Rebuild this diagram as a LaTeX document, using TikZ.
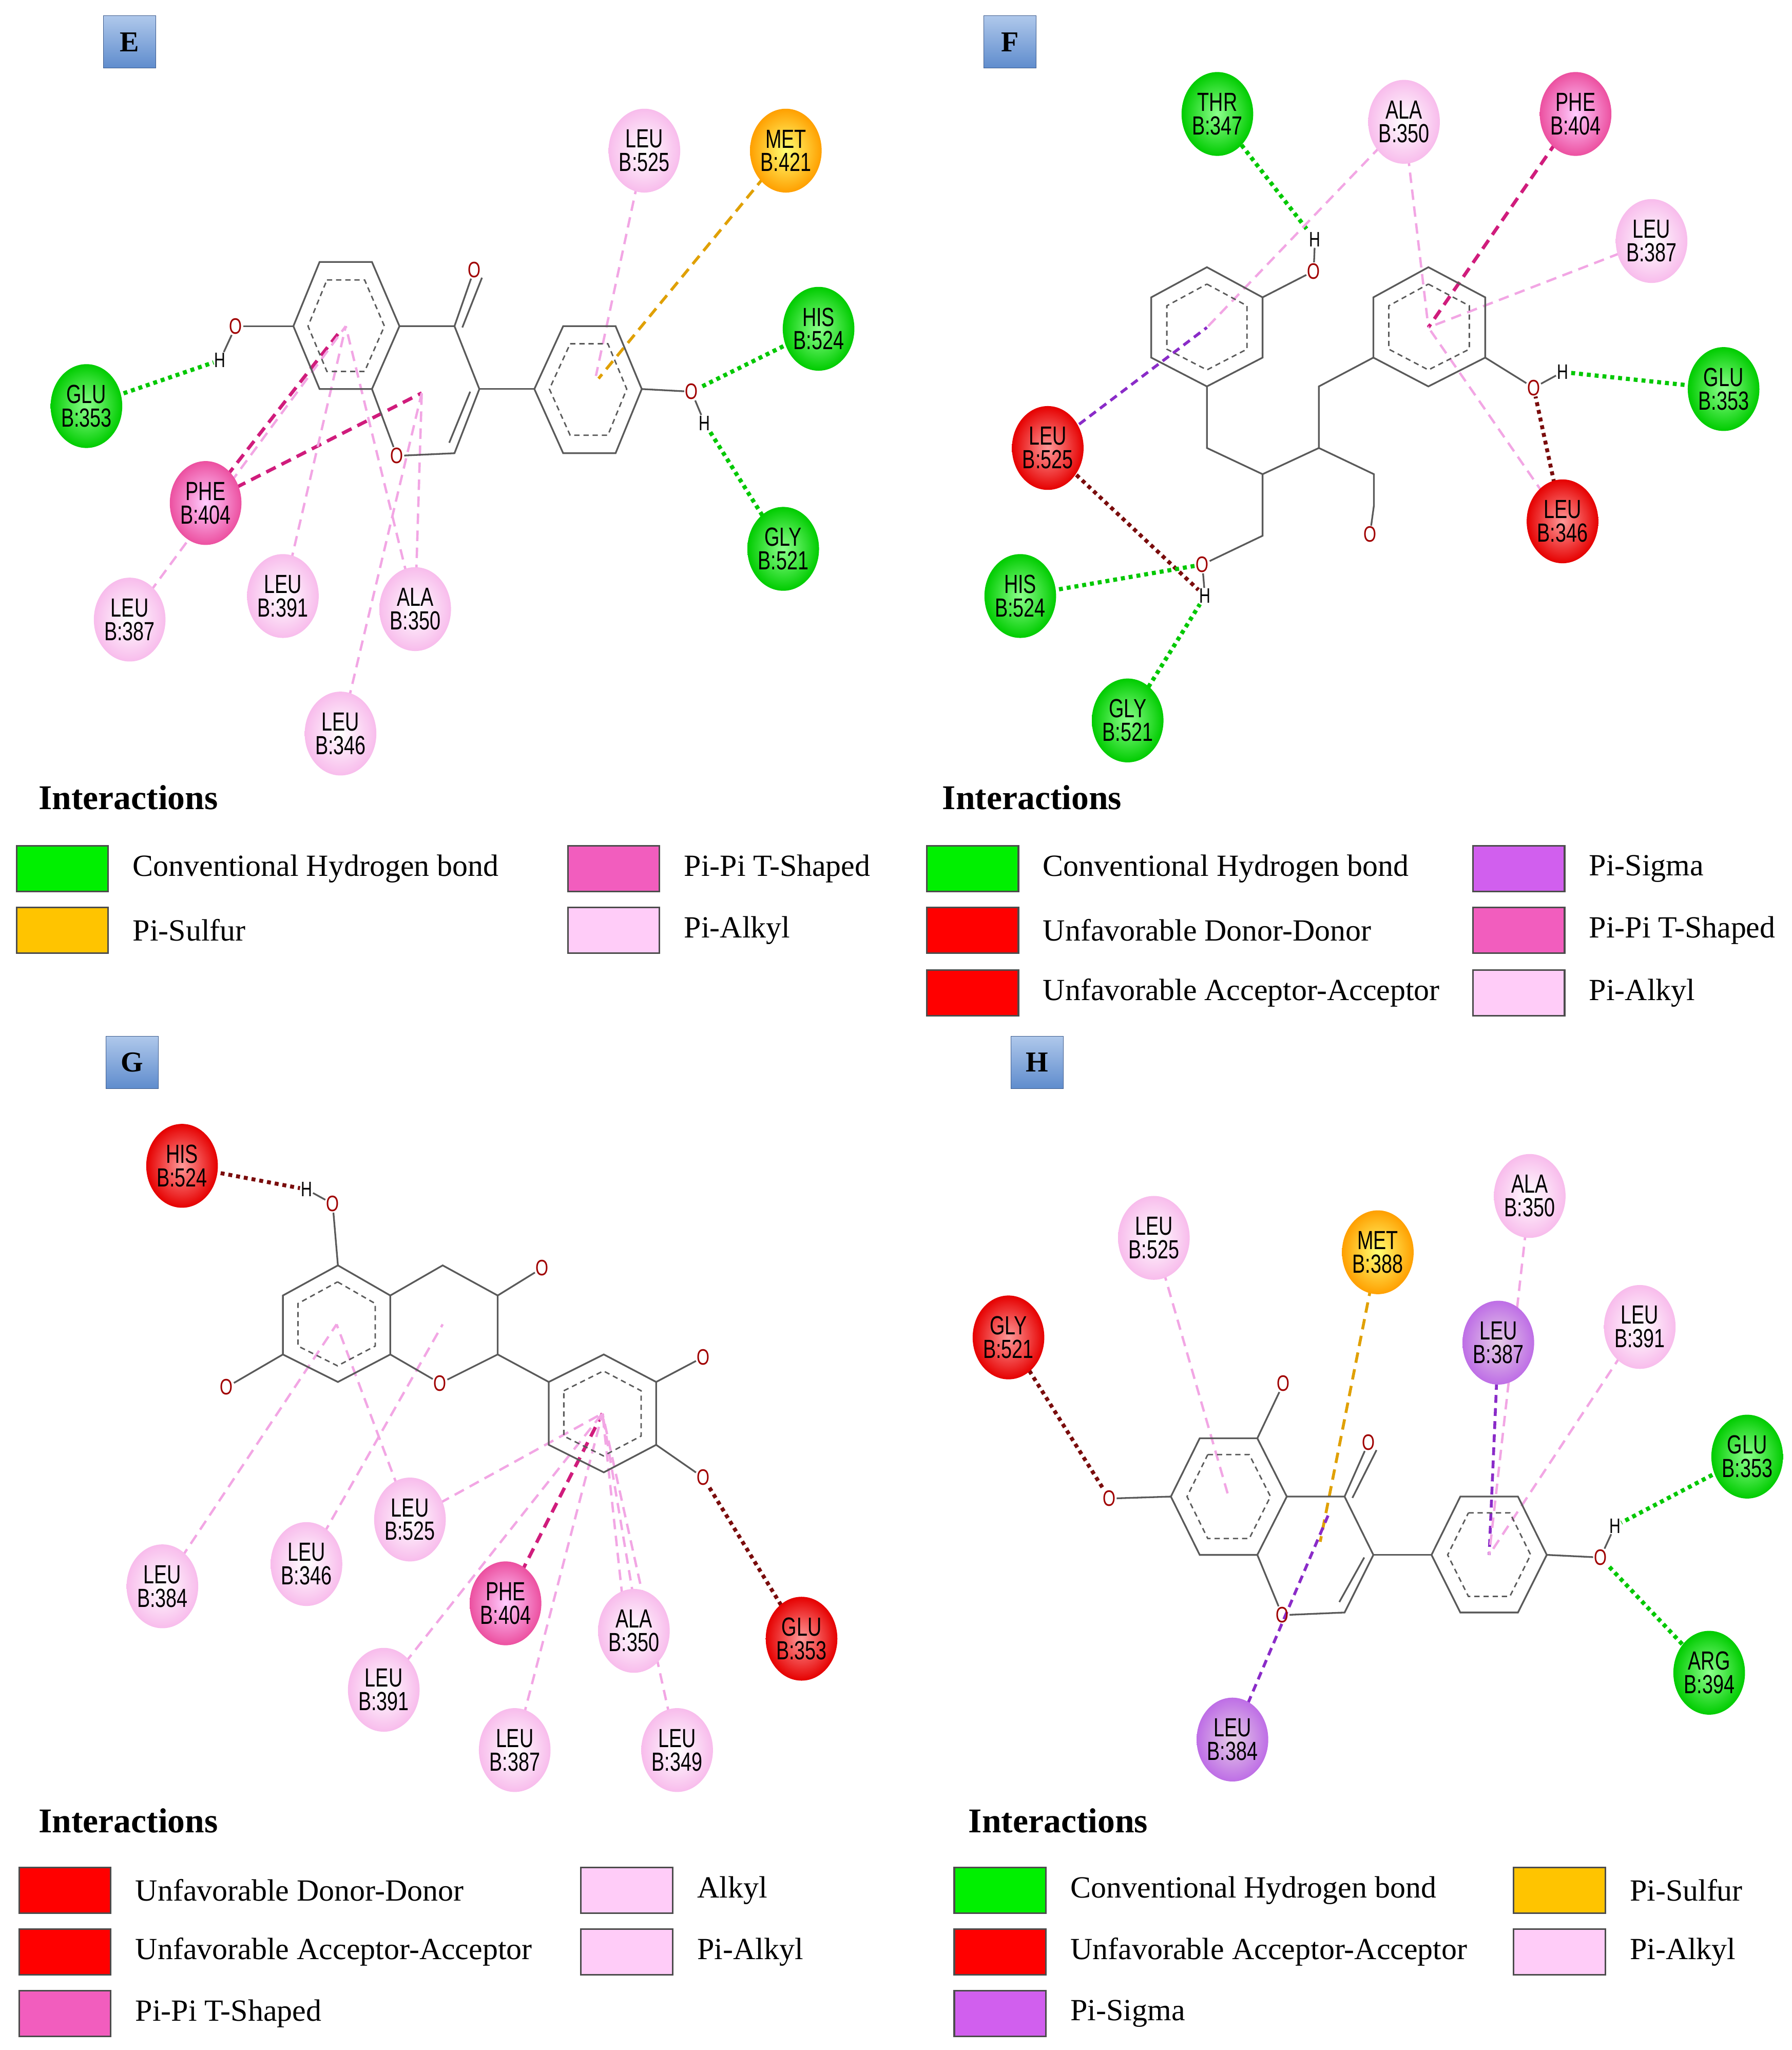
\documentclass[tikz,border=0pt]{standalone}
\usepackage{fontspec}
\setmainfont{Liberation Serif}
\newfontfamily\resfont{Liberation Sans}[FakeStretch=0.74]
\usetikzlibrary{shapes.geometric,calc}
\pgfdeclarelayer{bg}\pgfdeclarelayer{lines}\pgfsetlayers{bg,lines,main}
\definecolor{hbc}{HTML}{00C800}
\definecolor{alkc}{HTML}{F2A6E4}
\definecolor{pipic}{HTML}{D01C7C}
\definecolor{sulc}{HTML}{E0A000}
\definecolor{sigc}{HTML}{8A2BC8}
\definecolor{unfc}{HTML}{7A0C0C}
\definecolor{bondc}{HTML}{5A5A5A}
\definecolor{oc}{HTML}{A00000}
\definecolor{legalk}{HTML}{FFCCF8}
\definecolor{legpipi}{HTML}{F25DBE}
\definecolor{legsig}{HTML}{D15FEE}
\definecolor{leghb}{HTML}{00F000}
\definecolor{legsul}{HTML}{FFC400}
\tikzset{
 res/.style={ellipse,minimum width=50pt,minimum height=64pt,inner sep=0pt,align=center,
   font=\resfont\fontsize{20}{20}\selectfont,text=black},
 rgreen/.style={res,shading=radial,inner color=green!45!white,outer color=green!80!black},
 rred/.style={res,shading=radial,inner color=red!40!white,outer color=red!90!black},
 rpink/.style={res,shading=radial,inner color=white,outer color={rgb,255:red,248;green,188;blue,236}},
 rhot/.style={res,shading=radial,inner color=magenta!20!white,outer color={rgb,255:red,236;green,80;blue,160}},
 rorange/.style={res,shading=radial,inner color=yellow!55!white,outer color=orange!75!yellow},
 rpurple/.style={res,shading=radial,inner color=violet!20!white,outer color={rgb,255:red,190;green,110;blue,230}},
 bond/.style={draw=bondc,line width=1.3pt},
 arom/.style={draw=bondc,line width=1.1pt,dash pattern=on 4pt off 3pt},
 atom/.style={inner sep=0.5pt,font=\resfont\fontsize{17}{17}\selectfont,text=oc},
 hatom/.style={inner sep=0.5pt,font=\resfont\fontsize{16}{16}\selectfont,text=black},
 hb/.style={draw=hbc,line width=3.2pt,dash pattern=on 3pt off 3pt},
 unf/.style={draw=unfc,line width=3pt,dash pattern=on 3pt off 3pt},
 alk/.style={draw=alkc,line width=1.8pt,dash pattern=on 8pt off 5pt},
 pipi/.style={draw=pipic,line width=2.6pt,dash pattern=on 8pt off 5pt},
 sul/.style={draw=sulc,line width=2.2pt,dash pattern=on 8pt off 5pt},
 sig/.style={draw=sigc,line width=2.2pt,dash pattern=on 6pt off 4pt},
 lab/.style={draw={rgb,255:red,60;green,90;blue,140},top color={rgb,255:red,175;green,200;blue,235},bottom color={rgb,255:red,95;green,140;blue,205},
   minimum width=40pt,minimum height=40pt,inner sep=0pt,font=\bfseries\fontsize{22}{22}\selectfont},
 inter/.style={font=\bfseries\fontsize{26.5}{26.5}\selectfont,anchor=west},
 legbox/.style={draw=black!70,line width=1.2pt,minimum width=70pt,minimum height=35pt,inner sep=0pt,anchor=north west},
 legtxt/.style={font=\fontsize{23.5}{23.5}\selectfont,anchor=west,inner sep=0pt},
}
\newcommand\arom[7]{\draw[arom] ($(#7)!0.72!(#1)$) -- ($(#7)!0.72!(#2)$) -- ($(#7)!0.72!(#3)$) -- ($(#7)!0.72!(#4)$) -- ($(#7)!0.72!(#5)$) -- ($(#7)!0.72!(#6)$) -- cycle;}
\newcommand\res[5]{\node[#3] (#1) at (#2) {#4\\[-2pt]#5};}
\newcommand\legitem[5]{\node[legbox,fill=#3] (#1) at (#2) {}; \node[legtxt] at ([xshift=18pt]#1.east) {#5};}
\begin{document}
\begin{tikzpicture}[x=1pt,y=-1pt]
\begin{pgfonlayer}{bg}
\fill[white] (0,0) rectangle (1368,1565);
\end{pgfonlayer}
\useasboundingbox (0,0) rectangle (1368,1565);

% ================= E =================
\node[lab] (labE) at (99,32) {E};
\coordinate (eA1) at (244,200); \coordinate (eA2) at (284,200); \coordinate (eA3) at (305,249);
\coordinate (eA4) at (284,297); \coordinate (eA5) at (244,297); \coordinate (eA6) at (224,249);
\coordinate (eAc) at (264,249);
\coordinate (eC4) at (347,249); \coordinate (eC3) at (366,297); \coordinate (eC2) at (347,346);
\coordinate (eCc) at (322,300);
\node[atom] (eO1) at (303,348) {O};
\node[atom] (eO4) at (362,206) {O};
\coordinate (eB1) at (430,249); \coordinate (eB2) at (470,249); \coordinate (eB3) at (490,297);
\coordinate (eB4) at (470,346); \coordinate (eB5) at (430,346); \coordinate (eB6) at (408,297);
\coordinate (eBc) at (449,297);
\node[atom] (eOb) at (528,299) {O}; \node[hatom] (eHb) at (538,323) {H};
\node[atom] (eOa) at (180,249) {O}; \node[hatom] (eHa) at (168,275) {H};
\draw[bond] (eA1)--(eA2)--(eA3)--(eA4)--(eA5)--(eA6)--cycle;
\arom{eA1}{eA2}{eA3}{eA4}{eA5}{eA6}{eAc}
\draw[bond] (eA3)--(eC4)--(eC3)--(eC2)--(eO1)--(eA4);
\draw[bond] (eC4)--(eO4);
\draw[bond] ($(eC4)+(6,1)$)--($(eO4)+(6,6)$);
\draw[bond] ($(eC3)+(-7,2)$)--($(eC2)+(-4,-8)$);
\draw[bond] (eB1)--(eB2)--(eB3)--(eB4)--(eB5)--(eB6)--cycle;
\arom{eB1}{eB2}{eB3}{eB4}{eB5}{eB6}{eBc}
\draw[bond] (eC3)--(eB6); \draw[bond] (eB3)--(eOb); \draw[bond] (eOb)--(eHb);
\draw[bond] (eA6)--(eOa); \draw[bond] (eOa)--(eHa);
\res{eLEU525}{492,115}{rpink}{LEU}{B:525}
\res{eMET421}{600,115}{rorange}{MET}{B:421}
\res{eHIS524}{625,251}{rgreen}{HIS}{B:524}
\res{eGLY521}{598,419}{rgreen}{GLY}{B:521}
\res{eGLU353}{66,310}{rgreen}{GLU}{B:353}
\res{ePHE404}{157,384}{rhot}{PHE}{B:404}
\res{eLEU387}{99,473}{rpink}{LEU}{B:387}
\res{eLEU391}{216,455}{rpink}{LEU}{B:391}
\res{eALA350}{317,465}{rpink}{ALA}{B:350}
\res{eLEU346}{260,560}{rpink}{LEU}{B:346}
\begin{pgfonlayer}{lines}
\draw[hb] (eGLU353.center)--(eHa); \draw[hb] (eHIS524.center)--(eOb); \draw[hb] (eGLY521.center)--(eHb);
\draw[sul] (eMET421.center)--($(eBc)+(8,-8)$);
\draw[alk] (eLEU525.center)--($(eBc)+(6,-10)$);
\draw[pipi] (ePHE404.center)--($(eAc)+(-6,6)$); \draw[pipi] (ePHE404.center)--(eCc);
\draw[alk] (eLEU387.center)--(eAc); \draw[alk] (eLEU391.center)--(eAc);
\draw[alk] (eALA350.center)--(eAc); \draw[alk] (eALA350.center)--(eCc);
\draw[alk] (eLEU346.center)--(eCc);
\end{pgfonlayer}

% ================= F =================
\node[lab] (labF) at (771,32) {F};
\coordinate (fL1) at (921.5,204); \coordinate (fL2) at (964,227); \coordinate (fL3) at (964,273);
\coordinate (fL4) at (921.5,295); \coordinate (fL5) at (879,273); \coordinate (fL6) at (879,227);
\coordinate (fLc) at (921.5,250);
\coordinate (fR1) at (1090.6,204); \coordinate (fR2) at (1134,227); \coordinate (fR3) at (1134,273);
\coordinate (fR4) at (1090.6,295); \coordinate (fR5) at (1048.6,273); \coordinate (fR6) at (1048.6,227);
\coordinate (fRc) at (1090.6,250);
\node[atom] (fO1) at (1003,207) {O}; \node[hatom] (fH1) at (1004,183) {H};
\node[atom] (fO2) at (1171,296) {O}; \node[hatom] (fH2) at (1193,284) {H};
\coordinate (fa) at (921.5,342); \coordinate (fb) at (964,362); \coordinate (fc) at (964,409);
\node[atom] (fO3) at (918,431) {O};
\coordinate (fd) at (1007,342); \coordinate (fe) at (1007,295);
\coordinate (ff) at (1049,362); \coordinate (fg) at (1049,386);
\node[atom] (fO4) at (1046,408) {O};
\node[hatom] (fH3) at (920,455) {H};
\draw[bond] (fL1)--(fL2)--(fL3)--(fL4)--(fL5)--(fL6)--cycle;
\arom{fL1}{fL2}{fL3}{fL4}{fL5}{fL6}{fLc}
\draw[bond] (fR1)--(fR2)--(fR3)--(fR4)--(fR5)--(fR6)--cycle;
\arom{fR1}{fR2}{fR3}{fR4}{fR5}{fR6}{fRc}
\draw[bond] (fL2)--(fO1); \draw[bond] (fO1)--(fH1);
\draw[bond] (fR3)--(fO2); \draw[bond] (fO2)--(fH2);
\draw[bond] (fL4)--(fa)--(fb)--(fc)--(fO3); \draw[bond] (fO3)--(fH3);
\draw[bond] (fb)--(fd)--(fe)--(fR5);
\draw[bond] (fd)--(ff)--(fg)--(fO4);
\res{fTHR347}{929.5,87}{rgreen}{THR}{B:347}
\res{fALA350}{1072,93}{rpink}{ALA}{B:350}
\res{fPHE404}{1203,87}{rhot}{PHE}{B:404}
\res{fLEU387}{1261,184}{rpink}{LEU}{B:387}
\res{fGLU353}{1316,297}{rgreen}{GLU}{B:353}
\res{fLEU346}{1193,398}{rred}{LEU}{B:346}
\res{fLEU525}{800,342}{rred}{LEU}{B:525}
\res{fHIS524}{779,455}{rgreen}{HIS}{B:524}
\res{fGLY521}{861,550}{rgreen}{GLY}{B:521}
\begin{pgfonlayer}{lines}
\draw[hb] (fTHR347.center)--(fH1);
\draw[alk] (fALA350.center)--(fLc); \draw[alk] (fALA350.center)--(fRc);
\draw[pipi] (fPHE404.center)--(fRc);
\draw[alk] (fLEU387.center)--(fRc);
\draw[hb] (fGLU353.center)--(fH2);
\draw[unf] (fLEU346.center)--(fO2);
\draw[alk] (fLEU346.center)--(fRc);
\draw[sig] (fLEU525.center)--(fLc);
\draw[unf] (fLEU525.center)--(fH3);
\draw[hb] (fHIS524.center)--(fO3);
\draw[hb] (fGLY521.center)--(fH3);
\end{pgfonlayer}

% ================= G =================
\node[lab] (labG) at (101,811) {G};
\coordinate (gA1) at (258,966); \coordinate (gA2) at (298,989); \coordinate (gA3) at (298,1034);
\coordinate (gA4) at (258,1055); \coordinate (gA5) at (216,1034); \coordinate (gA6) at (216,989);
\coordinate (gAc) at (257,1011);
\coordinate (gC4) at (338,966); \coordinate (gC3) at (380,989); \coordinate (gC2) at (380,1034);
\node[atom] (gO1) at (336,1056) {O};
\coordinate (gCc) at (338,1011);
\node[atom] (gO2) at (254,919) {O}; \node[hatom] (gH) at (234,908) {H};
\node[atom] (gO3) at (414,968) {O};
\node[atom] (gO4) at (173,1059) {O};
\coordinate (gB1) at (419,1055); \coordinate (gB2) at (461,1034); \coordinate (gB3) at (501,1055);
\coordinate (gB4) at (501,1103); \coordinate (gB5) at (461,1124); \coordinate (gB6) at (419,1103);
\coordinate (gBc) at (460,1079);
\node[atom] (gO5) at (537,1036) {O}; \node[atom] (gO6) at (537,1128) {O};
\draw[bond] (gA1)--(gA2)--(gA3)--(gA4)--(gA5)--(gA6)--cycle;
\arom{gA1}{gA2}{gA3}{gA4}{gA5}{gA6}{gAc}
\draw[bond] (gA2)--(gC4)--(gC3)--(gC2)--(gO1)--(gA3);
\draw[bond] (gA1)--(gO2); \draw[bond] (gO2)--(gH);
\draw[bond] (gC3)--(gO3); \draw[bond] (gA5)--(gO4);
\draw[bond] (gB1)--(gB2)--(gB3)--(gB4)--(gB5)--(gB6)--cycle;
\arom{gB1}{gB2}{gB3}{gB4}{gB5}{gB6}{gBc}
\draw[bond] (gC2)--(gB1); \draw[bond] (gB3)--(gO5); \draw[bond] (gB4)--(gO6);
\res{gHIS524}{139,890}{rred}{HIS}{B:524}
\res{gLEU384}{124,1211}{rpink}{LEU}{B:384}
\res{gLEU346}{234,1194}{rpink}{LEU}{B:346}
\res{gLEU525}{313,1160}{rpink}{LEU}{B:525}
\res{gPHE404}{386,1224}{rhot}{PHE}{B:404}
\res{gALA350}{484,1245}{rpink}{ALA}{B:350}
\res{gGLU353}{612,1251}{rred}{GLU}{B:353}
\res{gLEU391}{293,1290}{rpink}{LEU}{B:391}
\res{gLEU387}{393,1336}{rpink}{LEU}{B:387}
\res{gLEU349}{517,1336}{rpink}{LEU}{B:349}
\begin{pgfonlayer}{lines}
\draw[unf] (gHIS524.center)--(gH);
\draw[unf] (gGLU353.center)--(gO6);
\draw[alk] (gLEU384.center)--(gAc);
\draw[alk] (gLEU346.center)--(gCc);
\draw[alk] (gLEU525.center)--(gAc); \draw[alk] (gLEU525.center)--(gBc);
\draw[pipi] (gPHE404.center)--(gBc);
\draw[alk] (gLEU391.center)--(gBc); \draw[alk] (gLEU387.center)--(gBc);
\draw[alk] ([xshift=-6pt]gALA350.center)--(gBc); \draw[alk] ([xshift=4pt]gALA350.center)--(gBc);
\draw[alk] (gLEU349.center)--(gBc);
\end{pgfonlayer}

% ================= H =================
\node[lab] (labH) at (792,811) {H};
\coordinate (hA1) at (916,1098); \coordinate (hA2) at (960,1098); \coordinate (hA3) at (982.5,1142.5);
\coordinate (hA4) at (960,1187); \coordinate (hA5) at (916,1187); \coordinate (hA6) at (894,1142.5);
\coordinate (hAc) at (938,1142.5);
\coordinate (hC4) at (1026.6,1142.5); \coordinate (hC3) at (1048.6,1187); \coordinate (hC2) at (1026.6,1231);
\node[atom] (hO1) at (979,1233) {O};
\coordinate (hCc) at (1004,1187);
\node[atom] (hO4) at (1045,1101) {O};
\node[atom] (hO5) at (980,1056) {O};
\node[atom] (hO6) at (847,1144) {O};
\coordinate (hB1) at (1115,1142.5); \coordinate (hB2) at (1159,1142.5); \coordinate (hB3) at (1181,1187);
\coordinate (hB4) at (1159,1231); \coordinate (hB5) at (1115,1231); \coordinate (hB6) at (1093,1187);
\coordinate (hBc) at (1137,1187);
\node[atom] (hO7) at (1222,1189) {O}; \node[hatom] (hH) at (1233,1165) {H};
\draw[bond] (hA1)--(hA2)--(hA3)--(hA4)--(hA5)--(hA6)--cycle;
\arom{hA1}{hA2}{hA3}{hA4}{hA5}{hA6}{hAc}
\draw[bond] (hA3)--(hC4)--(hC3)--(hC2)--(hO1)--(hA4);
\draw[bond] (hC4)--(hO4); \draw[bond] ($(hC4)+(6,1)$)--($(hO4)+(6,6)$);
\draw[bond] ($(hC3)+(-7,2)$)--($(hC2)+(-4,-8)$);
\draw[bond] (hA2)--(hO5); \draw[bond] (hA6)--(hO6);
\draw[bond] (hB1)--(hB2)--(hB3)--(hB4)--(hB5)--(hB6)--cycle;
\arom{hB1}{hB2}{hB3}{hB4}{hB5}{hB6}{hBc}
\draw[bond] (hC3)--(hB6); \draw[bond] (hB3)--(hO7); \draw[bond] (hO7)--(hH);
\res{hLEU525}{881,945}{rpink}{LEU}{B:525}
\res{hMET388}{1052,956}{rorange}{MET}{B:388}
\res{hGLY521}{770,1021}{rred}{GLY}{B:521}
\res{hALA350}{1168,913}{rpink}{ALA}{B:350}
\res{hLEU387}{1144,1025}{rpurple}{LEU}{B:387}
\res{hLEU391}{1252,1013}{rpink}{LEU}{B:391}
\res{hGLU353}{1334,1112}{rgreen}{GLU}{B:353}
\res{hARG394}{1305,1277}{rgreen}{ARG}{B:394}
\res{hLEU384}{941,1328}{rpurple}{LEU}{B:384}
\begin{pgfonlayer}{lines}
\draw[unf] (hGLY521.center)--(hO6);
\draw[alk] (hLEU525.center)--(hAc);
\draw[sul] (hMET388.center)--($(hCc)+(4,-10)$);
\draw[sig] (hLEU384.center)--($(hCc)+(10,-30)$);
\draw[sig] (hLEU387.center)--(hBc);
\draw[alk] (hALA350.center)--(hBc);
\draw[alk] (hLEU391.center)--(hBc);
\draw[hb] (hGLU353.center)--(hH);
\draw[hb] (hARG394.center)--(hO7);
\end{pgfonlayer}

% ================= Legends =================
\node[inter] (iE) at (26,609) {Interactions};
\legitem{lE1}{12,645}{leghb}{}{Conventional Hydrogen bond}
\legitem{lE2}{12,692}{legsul}{}{Pi-Sulfur}
\legitem{lE3}{433,645}{legpipi}{}{Pi-Pi T-Shaped}
\legitem{lE4}{433,692}{legalk}{}{Pi-Alkyl}

\node[inter] (iF) at (716,609) {Interactions};
\legitem{lF1}{707,645}{leghb}{}{Conventional Hydrogen bond}
\legitem{lF2}{707,692}{red}{}{Unfavorable Donor-Donor}
\legitem{lF3}{707,740}{red}{}{Unfavorable Acceptor-Acceptor}
\legitem{lF4}{1124,645}{legsig}{}{Pi-Sigma}
\legitem{lF5}{1124,692}{legpipi}{}{Pi-Pi T-Shaped}
\legitem{lF6}{1124,740}{legalk}{}{Pi-Alkyl}

\node[inter] (iG) at (26,1390) {Interactions};
\legitem{lG1}{14,1425}{red}{}{Unfavorable Donor-Donor}
\legitem{lG2}{14,1472}{red}{}{Unfavorable Acceptor-Acceptor}
\legitem{lG3}{14,1519}{legpipi}{}{Pi-Pi T-Shaped}
\legitem{lG4}{443,1425}{legalk}{}{Alkyl}
\legitem{lG5}{443,1472}{legalk}{}{Pi-Alkyl}

\node[inter] (iH) at (736,1390) {Interactions};
\legitem{lH1}{728,1425}{leghb}{}{Conventional Hydrogen bond}
\legitem{lH2}{728,1472}{red}{}{Unfavorable Acceptor-Acceptor}
\legitem{lH3}{728,1519}{legsig}{}{Pi-Sigma}
\legitem{lH4}{1155,1425}{legsul}{}{Pi-Sulfur}
\legitem{lH5}{1155,1472}{legalk}{}{Pi-Alkyl}
\end{tikzpicture}
\end{document}
